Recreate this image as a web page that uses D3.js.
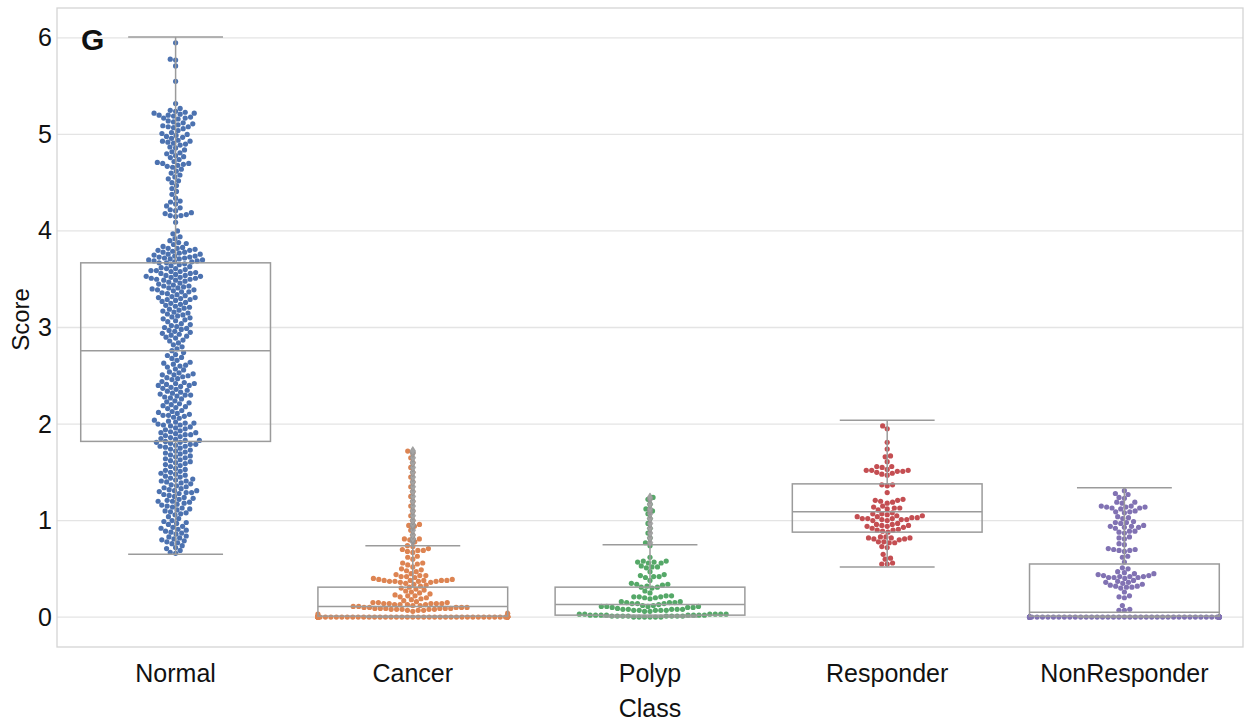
<!DOCTYPE html>
<html>
<head>
<meta charset="utf-8">
<script src="https://cdn.jsdelivr.net/npm/d3@7"></script>
<style>
  body { margin: 0; background: #fff; }
  text { font-family: "Liberation Sans", Arial, sans-serif; fill: #111; }
</style>
</head>
<body>
<svg id="chart" width="1244" height="721"></svg>
<script>
// ---- data ----
const classes = ["Normal", "Cancer", "Polyp", "Responder", "NonResponder"];
const colors = ["#4c72b0", "#dd8452", "#55a868", "#c44e52", "#8172b3"];
const yTicks = [0, 1, 2, 3, 4, 5, 6];

const normalScores = [
  5.95, 5.78, 5.77, 5.71, 5.55, 5.32, 5.27, 5.25,
  5.24, 5.23, 5.22, 5.22, 5.21, 5.20, 5.20, 5.19, 5.18, 5.17, 5.17, 5.16,
  5.14, 5.13, 5.12, 5.11, 5.10, 5.09, 5.08, 5.08, 5.07, 5.06,
  5.04, 5.02, 5.01, 5.00, 4.99, 4.98, 4.97, 4.96,
  4.94, 4.93, 4.93, 4.92, 4.91, 4.90, 4.89, 4.87, 4.86,
  4.84, 4.82, 4.81, 4.80, 4.78, 4.77, 4.76,
  4.74, 4.72, 4.71, 4.70, 4.70, 4.69, 4.68, 4.67, 4.66,
  4.64, 4.62, 4.60, 4.58, 4.56,
  4.54, 4.52, 4.50, 4.47,
  4.44, 4.41, 4.38,
  4.34, 4.31, 4.30, 4.28, 4.26,
  4.24, 4.22, 4.21, 4.19, 4.18, 4.17, 4.16, 4.16, 4.15,
  4.09, 4.00, 3.97,
  3.94, 3.92, 3.90, 3.88, 3.87, 3.86,
  3.84, 3.83, 3.82, 3.82, 3.81, 3.80, 3.80, 3.79, 3.78, 3.78, 3.77, 3.76, 3.76, 3.75,
  3.74, 3.74, 3.73, 3.73, 3.72, 3.72, 3.71, 3.71, 3.70, 3.70, 3.69, 3.69, 3.68, 3.68, 3.67, 3.67, 3.66, 3.65,
  3.64, 3.63, 3.62, 3.61, 3.61, 3.60, 3.59, 3.59, 3.58, 3.58, 3.57, 3.56, 3.56, 3.55,
  3.54, 3.54, 3.53, 3.53, 3.52, 3.52, 3.51, 3.51, 3.50, 3.50, 3.49, 3.49, 3.48, 3.47, 3.46, 3.45,
  3.44, 3.43, 3.43, 3.42, 3.41, 3.41, 3.40, 3.39, 3.39, 3.38, 3.37, 3.37, 3.36, 3.35,
  3.34, 3.33, 3.32, 3.31, 3.31, 3.30, 3.29, 3.29, 3.28, 3.27, 3.26, 3.25,
  3.24, 3.23, 3.22, 3.21, 3.20, 3.19, 3.18, 3.17, 3.16, 3.15,
  3.14, 3.13, 3.12, 3.11, 3.10, 3.09, 3.08, 3.07, 3.06,
  3.04, 3.03, 3.02, 3.01, 3.00, 2.99, 2.98, 2.97, 2.96, 2.95,
  2.94, 2.93, 2.92, 2.91, 2.90, 2.89, 2.87, 2.86,
  2.84, 2.82, 2.80, 2.78, 2.76,
  2.74, 2.72, 2.71, 2.69, 2.68, 2.66,
  2.64, 2.63, 2.62, 2.61, 2.60, 2.59, 2.57, 2.56,
  2.54, 2.53, 2.52, 2.51, 2.51, 2.50, 2.49, 2.48, 2.47, 2.46,
  2.44, 2.43, 2.42, 2.42, 2.41, 2.40, 2.40, 2.39, 2.38, 2.37, 2.36, 2.35,
  2.34, 2.33, 2.32, 2.31, 2.30, 2.30, 2.29, 2.28, 2.27, 2.26,
  2.24, 2.23, 2.22, 2.21, 2.20, 2.19, 2.18, 2.17, 2.16,
  2.14, 2.13, 2.12, 2.11, 2.10, 2.09, 2.09, 2.08, 2.07, 2.06,
  2.04, 2.03, 2.02, 2.01, 2.01, 2.00, 1.99, 1.99, 1.98, 1.97, 1.96, 1.95,
  1.94, 1.93, 1.92, 1.91, 1.91, 1.90, 1.89, 1.89, 1.88, 1.87, 1.86, 1.85,
  1.84, 1.83, 1.83, 1.82, 1.81, 1.81, 1.80, 1.79, 1.79, 1.78, 1.77, 1.77, 1.76, 1.75,
  1.74, 1.73, 1.72, 1.71, 1.70, 1.69, 1.68, 1.67, 1.66, 1.65,
  1.64, 1.63, 1.62, 1.61, 1.60, 1.59, 1.58, 1.57, 1.56,
  1.54, 1.53, 1.52, 1.51, 1.50, 1.49, 1.48, 1.47, 1.46, 1.45,
  1.44, 1.43, 1.42, 1.41, 1.41, 1.40, 1.39, 1.38, 1.37, 1.36, 1.35,
  1.34, 1.33, 1.32, 1.31, 1.31, 1.30, 1.29, 1.29, 1.28, 1.27, 1.26, 1.25,
  1.24, 1.23, 1.22, 1.21, 1.20, 1.20, 1.19, 1.18, 1.17, 1.16, 1.15,
  1.14, 1.13, 1.12, 1.11, 1.10, 1.09, 1.08, 1.07, 1.06,
  1.04, 1.02, 1.00, 0.99, 0.98, 0.97, 0.96,
  0.94, 0.93, 0.92, 0.91, 0.90, 0.89, 0.88, 0.87, 0.86,
  0.84, 0.83, 0.82, 0.81, 0.80, 0.79, 0.78, 0.77, 0.76,
  0.74, 0.72, 0.71, 0.69, 0.67, 0.66
];

const cancerScores = [
  0, 0, 0, 0, 0, 0, 0, 0, 0, 0, 0, 0, 0, 0, 0, 0, 0, 0, 0, 0,
  0, 0, 0, 0, 0, 0, 0, 0, 0, 0, 0, 0, 0, 0, 0, 0, 0, 0, 0, 0,
  0, 0, 0, 0, 0, 0, 0, 0, 0, 0, 0, 0, 0, 0, 0, 0, 0, 0, 0, 0,
  0, 0, 0, 0, 0, 0,
  0.02, 0.03, 0.04,
  0.06, 0.07, 0.07, 0.07, 0.08, 0.08, 0.08, 0.08, 0.08, 0.09, 0.09, 0.09, 0.09, 0.09, 0.09,
  0.10, 0.10, 0.10, 0.10, 0.10, 0.11, 0.11,
  0.12, 0.12, 0.13, 0.13, 0.13, 0.13, 0.14, 0.14, 0.14, 0.14, 0.14, 0.15, 0.15, 0.15, 0.16,
  0.17, 0.18, 0.19, 0.20, 0.21, 0.22, 0.22, 0.23, 0.24, 0.25, 0.26, 0.27,
  0.28, 0.29, 0.30, 0.31, 0.32, 0.33, 0.34, 0.35,
  0.36, 0.36, 0.37, 0.37, 0.37, 0.37, 0.38, 0.38, 0.38, 0.38, 0.38, 0.39, 0.39,
  0.40, 0.41, 0.42, 0.42, 0.43, 0.43, 0.44, 0.45,
  0.47, 0.48, 0.49, 0.50,
  0.52, 0.54, 0.55, 0.56, 0.56,
  0.60, 0.62, 0.63,
  0.67, 0.68, 0.69, 0.69, 0.70, 0.71,
  0.73, 0.74,
  0.78, 0.80, 0.81, 0.81, 0.85, 0.90, 0.94, 0.95, 0.96, 1.00,
  1.05, 1.10, 1.15, 1.20, 1.25, 1.30, 1.35, 1.40, 1.45, 1.50,
  1.55, 1.60, 1.65, 1.70, 1.72
];

const polypScores = [
  0.00, 0.00, 0.00, 0.00, 0.00, 0.00,
  0.01, 0.01, 0.01, 0.01, 0.01, 0.01, 0.01, 0.01,
  0.02, 0.02, 0.02, 0.02, 0.02, 0.02, 0.02, 0.02,
  0.03, 0.03, 0.03, 0.03, 0.03, 0.03,
  0.06, 0.06, 0.07, 0.07, 0.07, 0.07, 0.07, 0.08, 0.08, 0.08, 0.08, 0.08, 0.09,
  0.10, 0.10, 0.10, 0.11, 0.11, 0.11, 0.11, 0.12, 0.12,
  0.13, 0.14, 0.14, 0.14, 0.15, 0.15, 0.15, 0.16, 0.16,
  0.19, 0.20, 0.20, 0.21, 0.21, 0.21, 0.22, 0.22,
  0.25, 0.27,
  0.30, 0.31, 0.31, 0.32, 0.33, 0.34, 0.34, 0.35,
  0.38,
  0.41, 0.42, 0.42, 0.43, 0.44,
  0.47,
  0.51, 0.52, 0.52, 0.53,
  0.56, 0.56, 0.57, 0.57, 0.58, 0.58,
  0.62, 0.74,
  0.77, 0.82, 0.87, 0.92, 0.97, 1.02, 1.07, 1.10, 1.12, 1.17, 1.22, 1.24
];

const responderScores = [
  1.98, 1.95, 1.81, 1.74, 1.67, 1.66, 1.61, 1.56, 1.56, 1.55,
  1.53, 1.52, 1.52, 1.52, 1.51, 1.51, 1.50, 1.49, 1.48, 1.47,
  1.37, 1.37, 1.36, 1.29, 1.22, 1.21, 1.21, 1.20, 1.19, 1.18,
  1.15, 1.14, 1.13, 1.13, 1.12, 1.11, 1.08, 1.07, 1.07, 1.06,
  1.05, 1.05, 1.04, 1.04, 1.03, 1.03, 1.02, 1.02, 1.02, 1.01,
  1.01, 1.01, 1.00, 1.00, 0.97, 0.96, 0.96, 0.95, 0.95, 0.94,
  0.94, 0.93, 0.92, 0.91, 0.90, 0.90, 0.89, 0.88, 0.83, 0.83,
  0.82, 0.82, 0.82, 0.81, 0.81, 0.80, 0.78, 0.78, 0.77, 0.77,
  0.73, 0.72, 0.65, 0.61, 0.60, 0.56, 0.55, 0.55
];

const nonResponderScores = [
  0, 0, 0, 0, 0, 0, 0, 0, 0, 0, 0, 0, 0, 0, 0, 0, 0, 0, 0, 0,
  0, 0, 0, 0, 0, 0, 0, 0, 0, 0, 0, 0, 0, 0, 0, 0, 0, 0, 0, 0,
  0, 0, 0, 0, 0, 0, 0, 0, 0, 0, 0, 0, 0, 0, 0, 0, 0, 0, 0, 0,
  0.07, 0.07, 0.08, 0.12,
  0.20, 0.21, 0.22, 0.26,
  0.30, 0.31, 0.31, 0.32, 0.32, 0.33, 0.34,
  0.35, 0.36, 0.36, 0.37, 0.38,
  0.40, 0.41, 0.41, 0.41, 0.42, 0.42, 0.42, 0.43, 0.43,
  0.44, 0.45, 0.45, 0.46, 0.47,
  0.50, 0.51, 0.57, 0.62, 0.63,
  0.68, 0.69, 0.69, 0.70, 0.70, 0.71,
  0.75, 0.76, 0.81, 0.82, 0.83,
  0.87, 0.88, 0.89, 0.89,
  0.92, 0.93, 0.93, 0.94, 0.94, 0.95,
  0.97, 0.98, 0.98, 0.99,
  1.02, 1.03, 1.04,
  1.08, 1.09, 1.09, 1.10,
  1.12, 1.13, 1.13, 1.14, 1.14, 1.14, 1.15, 1.15,
  1.18, 1.19, 1.19, 1.23, 1.24, 1.27, 1.28, 1.31
];

const scoresByClass = [normalScores, cancerScores, polypScores, responderScores, nonResponderScores];

// box summary per class
const boxQ1 = [1.82, 0.01, 0.02, 0.88, 0.01];
const boxMedian = [2.76, 0.11, 0.13, 1.09, 0.05];
const boxQ3 = [3.67, 0.31, 0.31, 1.38, 0.55];
const whiskerLow = [0.65, 0.00, 0.00, 0.52, 0.00];
const whiskerHigh = [6.01, 0.74, 0.75, 2.04, 1.34];

// ---- layout ----
const plot = { left: 57, right: 1243, top: 8, bottom: 647 };
const svg = d3.select("#chart");
const fontStack = '"Liberation Sans", Arial, sans-serif';

const x = d3.scaleBand().domain(classes).range([plot.left, plot.right]).padding(0);
const y = d3.scaleLinear().domain([-0.31, 6.31]).range([plot.bottom, plot.top]);

const boxW = x.bandwidth() * 0.8;
const dotR = 2.6;
const gridColor = "#e4e4e4";
const spineColor = "#d4d4d4";
const boxColor = "#9b9b9b";

// gridlines
svg.append("g").selectAll("line").data(yTicks).join("line")
  .attr("x1", plot.left).attr("x2", plot.right)
  .attr("y1", d => y(d)).attr("y2", d => y(d))
  .attr("stroke", gridColor).attr("stroke-width", 1.3);

// frame
svg.append("rect")
  .attr("x", plot.left).attr("y", plot.top)
  .attr("width", plot.right - plot.left).attr("height", plot.bottom - plot.top)
  .attr("fill", "none").attr("stroke", spineColor).attr("stroke-width", 1.3);

// y axis
const yAxis = d3.axisLeft(y).tickValues(yTicks).tickSize(0).tickPadding(5).tickFormat(d3.format("d"));
const gy = svg.append("g").attr("transform", `translate(${plot.left},0)`).call(yAxis);
gy.select(".domain").remove();
gy.selectAll("text").attr("font-size", 25).style("font-family", fontStack).attr("fill", "#111");

// x axis
const xAxis = d3.axisBottom(x).tickSize(0).tickPadding(17);
const gx = svg.append("g").attr("transform", `translate(0,${plot.bottom})`).call(xAxis);
gx.select(".domain").remove();
gx.selectAll("text").attr("font-size", 25).style("font-family", fontStack).attr("fill", "#111");

// axis titles
svg.append("text").attr("x", (plot.left + plot.right) / 2).attr("y", 717)
  .attr("text-anchor", "middle").attr("font-size", 25).text("Class");
svg.append("text").attr("transform", `translate(29,${(plot.top + plot.bottom) / 2 - 8}) rotate(-90)`)
  .attr("text-anchor", "middle").attr("font-size", 24).text("Score");

// panel letter
svg.append("text").attr("x", 81).attr("y", 50).attr("font-size", 30)
  .attr("font-weight", "bold").text("G");

// ---- swarm layout (sorted insertion, closest-to-centre non-overlapping slot) ----
function swarm(values, centre, halfWidth) {
  const pts = values.map(v => ({ v, py: y(v), px: centre }))
    .sort((a, b) => b.py - a.py);
  const placed = [];
  const dmin = dotR * 2;
  pts.forEach(p => {
    const near = [];
    for (let i = placed.length - 1; i >= 0; i--) {
      const q = placed[i];
      if (Math.abs(q.py - p.py) > dmin) break;
      near.push(q);
    }
    const cands = [centre];
    near.forEach(q => {
      const dy = p.py - q.py;
      const dx = Math.sqrt(Math.max(dmin * dmin - dy * dy, 0)) * 1.05;
      cands.push(q.px - dx, q.px + dx);
    });
    cands.sort((a, b) => Math.abs(a - centre) - Math.abs(b - centre));
    for (const c of cands) {
      const ok = near.every(q => (q.px - c) ** 2 + (q.py - p.py) ** 2 >= dmin * dmin - 1e-6);
      if (ok) { p.px = c; break; }
    }
    placed.push(p);
  });
  placed.forEach(p => {
    p.px = Math.max(centre - halfWidth, Math.min(centre + halfWidth, p.px));
  });
  return placed;
}

// points
classes.forEach((cls, i) => {
  const cx = x(cls) + x.bandwidth() / 2;
  const pts = swarm(scoresByClass[i], cx, boxW / 2);
  svg.append("g").selectAll("circle").data(pts).join("circle")
    .attr("cx", d => d.px).attr("cy", d => d.py).attr("r", dotR)
    .attr("fill", colors[i]);
});

// boxes, whiskers, fliers
classes.forEach((cls, i) => {
  const cx = x(cls) + x.bandwidth() / 2;
  const g = svg.append("g").attr("stroke", boxColor).attr("stroke-width", 1.5).attr("fill", "none");
  g.append("rect").attr("x", cx - boxW / 2).attr("width", boxW)
    .attr("y", y(boxQ3[i])).attr("height", y(boxQ1[i]) - y(boxQ3[i]));
  g.append("line").attr("x1", cx - boxW / 2).attr("x2", cx + boxW / 2)
    .attr("y1", y(boxMedian[i])).attr("y2", y(boxMedian[i]));
  g.append("line").attr("x1", cx).attr("x2", cx).attr("y1", y(boxQ3[i])).attr("y2", y(whiskerHigh[i]));
  g.append("line").attr("x1", cx).attr("x2", cx).attr("y1", y(boxQ1[i])).attr("y2", y(whiskerLow[i]));
  [whiskerHigh[i], whiskerLow[i]].forEach(v => {
    g.append("line").attr("x1", cx - boxW / 4).attr("x2", cx + boxW / 4)
      .attr("y1", y(v)).attr("y2", y(v));
  });
  const fliers = scoresByClass[i].filter(v => v > whiskerHigh[i] + 1e-9 || v < whiskerLow[i] - 1e-9);
  svg.append("g").selectAll("path").data(fliers).join("path")
    .attr("d", "M0,-4.5L2.8,0L0,4.5L-2.8,0Z")
    .attr("transform", v => `translate(${cx},${y(v)})`)
    .attr("fill", "#a3a3a3").attr("stroke", "#8f8f8f").attr("stroke-width", 0.6);
});
</script>
</body>
</html>
